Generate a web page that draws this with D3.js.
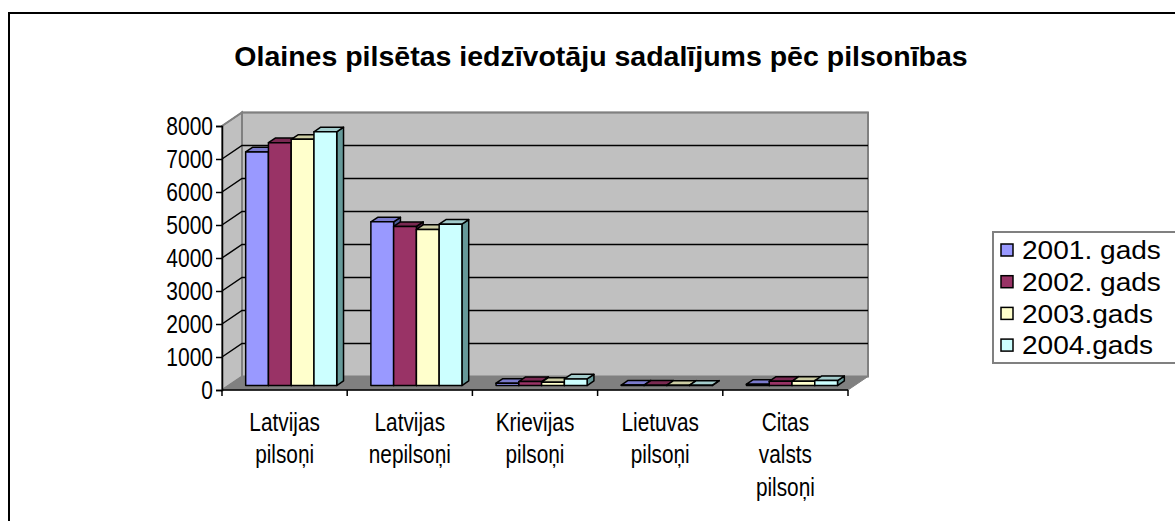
<!DOCTYPE html>
<html>
<head>
<meta charset="utf-8">
<script src="https://cdn.jsdelivr.net/npm/d3@7"></script>
<style>
  body { margin: 0; background: #fff; }
  svg text { font-family: Arial, "Liberation Sans", sans-serif; }
</style>
</head>
<body>
<svg id="chart" width="1175" height="521"></svg>
<script>
// data
const categories = [["Latvijas", "pilsoņi"], ["Latvijas", "nepilsoņi"], ["Krievijas", "pilsoņi"], ["Lietuvas", "pilsoņi"], ["Citas", "valsts", "pilsoņi"]];
const seriesNames = ["2001. gads", "2002. gads", "2003.gads", "2004.gads"];
const values2001 = [7080, 4960, 70, 15, 40];
const values2002 = [7360, 4820, 120, 12, 130];
const values2003 = [7460, 4730, 100, 10, 130];
const values2004 = [7690, 4890, 200, 10, 150];
const yTicks = [0, 1000, 2000, 3000, 4000, 5000, 6000, 7000, 8000];
const colors = ["#9999FF", "#993366", "#FFFFCC", "#CCFFFF"];

const series = [values2001, values2002, values2003, values2004];

const svg = d3.select("#chart");

// chart area border
svg.append("rect")
    .attr("x", 9).attr("y", 13)
    .attr("width", 1200).attr("height", 540)
    .style("fill", "#fff").style("stroke", "#000").style("stroke-width", 2);

svg.append("text")
    .attr("x", 601).attr("y", 66)
    .attr("text-anchor", "middle")
    .style("font-size", "28.5px").style("font-weight", "bold")
    .text("Olaines pilsētas iedzīvotāju sadalījums pēc pilsonības");

// 3d plot geometry
const DX = 20, DY = 13.5;
const x = d3.scaleBand().domain(d3.range(categories.length)).range([222, 848]);
const xs = d3.scaleBand().domain(d3.range(series.length)).range([0, x.bandwidth()]).paddingOuter(0.75);
const y = d3.scaleLinear().domain([0, 8000]).range([390, 126]);

// point in plot space -> svg, f = depth fraction 0..1
const P = (px, v, f) => [px + f * DX, y(v) - f * DY];
const poly = pts => "M" + pts.map(p => p.join(",")).join("L") + "Z";

const x0 = x.range()[0], x1 = x.range()[1];
const yMax = yTicks[yTicks.length - 1];

// walls and floor
svg.append("path")
    .attr("d", poly([P(x0, 0, 1), P(x0, yMax, 1), P(x1, yMax, 1), P(x1, 0, 1)]))
    .style("fill", "#C0C0C0").style("stroke", "#808080").style("stroke-width", 2);
svg.append("path")
    .attr("d", poly([P(x0, 0, 0), P(x0, yMax, 0), P(x0, yMax, 1), P(x0, 0, 1)]))
    .style("fill", "#C0C0C0").style("stroke", "#808080").style("stroke-width", 2);
svg.append("path")
    .attr("d", poly([P(x0, 0, 0), P(x0, 0, 1), P(x1, 0, 1), P(x1, 0, 0)]))
    .style("fill", "#808080").style("stroke", "#808080").style("stroke-width", 1);

// gridlines
const grid = svg.append("g");
yTicks.filter(t => t > 0).forEach(t => {
    const a = P(x0, t, 0), b = P(x0, t, 1), c = P(x1, t, 1);
    grid.append("path")
        .attr("d", "M" + a + "L" + b + "L" + c)
        .style("fill", "none")
        .style("stroke", t === yMax ? "#808080" : "#000")
        .style("stroke-width", 1.5);
});

// bars
const bars = svg.append("g");
categories.forEach((cat, ci) => {
    series.forEach((vals, si) => {
        const v = vals[ci];
        const bx0 = x(ci) + xs(si), bx1 = bx0 + xs.bandwidth();
        const f0 = 0.33, f1 = 0.67;
        const base = d3.color(colors[si]);
        const g = bars.append("g")
            .style("stroke", "#000").style("stroke-width", 1.5).style("stroke-linejoin", "round");
        g.append("path")
            .attr("d", poly([P(bx1, 0, f0), P(bx1, v, f0), P(bx1, v, f1), P(bx1, 0, f1)]))
            .style("fill", d3.rgb(base.r * 0.5, base.g * 0.6, base.b * 0.6));
        g.append("path")
            .attr("d", poly([P(bx0, v, f0), P(bx1, v, f0), P(bx1, v, f1), P(bx0, v, f1)]))
            .style("fill", d3.rgb(base.r * 0.8, base.g * 0.8, base.b * 0.8));
        g.append("path")
            .attr("d", poly([P(bx0, 0, f0), P(bx0, v, f0), P(bx1, v, f0), P(bx1, 0, f0)]))
            .style("fill", colors[si]);
    });
});

// y axis
const yAxis = d3.axisLeft(y).tickValues(yTicks).tickSize(6).tickPadding(3).tickFormat(d3.format("d"));
const yg = svg.append("g").attr("transform", "translate(" + x0 + ",0)").call(yAxis);
yg.select(".domain").style("stroke", "#000").style("stroke-width", 1.5);
yg.selectAll(".tick line").style("stroke", "#000").style("stroke-width", 1.5);
yg.selectAll(".tick text").style("font-size", "25px").style("fill", "#000")
    .style("font-family", "Arial, 'Liberation Sans', sans-serif")
    .attr("transform", "scale(0.84,1)").attr("x", -9 / 0.84);

// x axis: ticks at category boundaries
const xg = svg.append("g");
xg.append("line").attr("x1", x0).attr("x2", x1).attr("y1", y(0)).attr("y2", y(0))
    .style("stroke", "#000").style("stroke-width", 1.5);
d3.range(categories.length + 1).forEach(i => {
    const tx = x0 + i * x.step();
    xg.append("line").attr("x1", tx).attr("x2", tx).attr("y1", y(0)).attr("y2", y(0) + 6)
        .style("stroke", "#000").style("stroke-width", 1.5);
});
categories.forEach((lines, ci) => {
    const t = xg.append("g")
        .attr("transform", "translate(" + (x(ci) + x.bandwidth() / 2) + ",0) scale(0.8,1)")
        .append("text")
        .attr("text-anchor", "middle")
        .style("font-size", "26px");
    lines.forEach((ln, li) => {
        t.append("tspan")
            .attr("x", 0)
            .attr("y", 431 + li * 32.5)
            .text(ln);
    });
});

// legend
const legend = svg.append("g");
legend.append("rect")
    .attr("x", 993).attr("y", 232).attr("width", 220).attr("height", 131)
    .style("fill", "#fff").style("stroke", "#808080").style("stroke-width", 2);
seriesNames.forEach((name, i) => {
    const ly = 250 + i * 31.7;
    legend.append("rect")
        .attr("x", 1001).attr("y", ly - 6).attr("width", 12).attr("height", 12)
        .style("fill", colors[i]).style("stroke", "#000").style("stroke-width", 1.5);
    legend.append("g")
        .attr("transform", "translate(1022," + ly + ") scale(1.08,1)")
        .append("text")
        .attr("dy", "0.36em")
        .style("font-size", "26px")
        .text(name);
});
</script>
</body>
</html>
